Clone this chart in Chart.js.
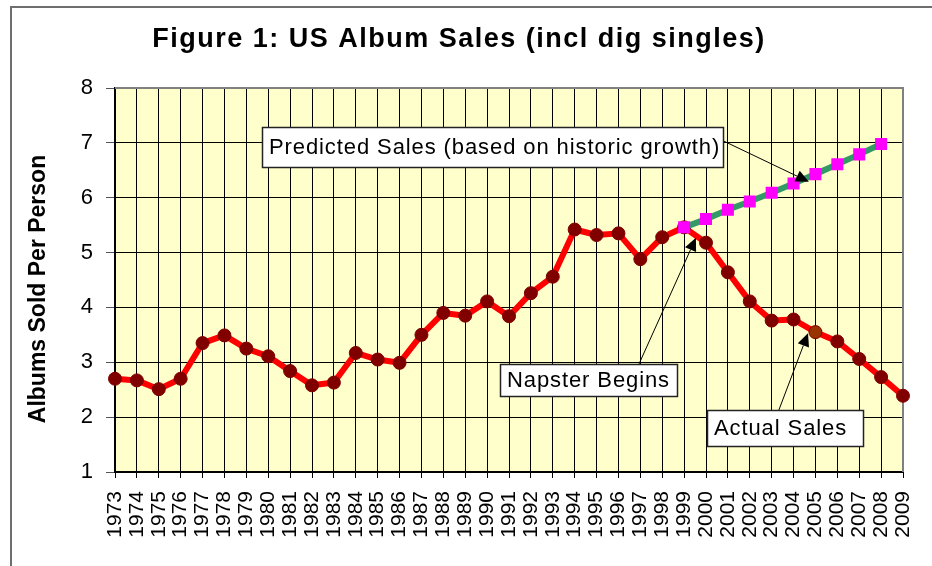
<!DOCTYPE html>
<html>
<head>
<meta charset="utf-8">
<script src="https://cdn.jsdelivr.net/npm/chart.js@4.4.1/dist/chart.umd.min.js"></script>
<style>
  html, body { margin: 0; padding: 0; background: #ffffff; }
  #wrap { width: 932px; height: 566px; position: relative; }
</style>
</head>
<body>
<div id="wrap"><canvas id="c" width="932" height="566"></canvas></div>
<script>
// ---- data ----
const years = ['1973','1974','1975','1976','1977','1978','1979','1980','1981','1982','1983','1984','1985','1986','1987','1988','1989','1990','1991','1992','1993','1994','1995','1996','1997','1998','1999','2000','2001','2002','2003','2004','2005','2006','2007','2008','2009'];
const actualSales = [2.70, 2.67, 2.51, 2.70, 3.35, 3.49, 3.25, 3.11, 2.84, 2.58, 2.63, 3.17, 3.05, 2.99, 3.50, 3.90, 3.85, 4.11, 3.84, 4.26, 4.56, 5.42, 5.32, 5.35, 4.88, 5.28, 5.46, 5.18, 4.64, 4.11, 3.76, 3.78, 3.55, 3.38, 3.06, 2.73, 2.39];
const predictedSales = [null, null, null, null, null, null, null, null, null, null, null, null, null, null, null, null, null, null, null, null, null, null, null, null, null, null, 5.46, 5.61, 5.78, 5.93, 6.09, 6.26, 6.43, 6.61, 6.79, 6.98, null];
const yTicks = [1, 2, 3, 4, 5, 6, 7, 8];
const titleText = 'Figure 1: US Album Sales (incl dig singles)';
const yTitleText = 'Albums Sold Per Person';
const highlightedYear = '2005';

// ---- annotation callouts (box corner / arrow tail / arrow tip in data coordinates) ----
const callouts = [
  { text: 'Predicted Sales (based on historic growth)', bx: 6.71, by: 7.29, w: 461, h: 40, tx: 27.77, ty: 7.04, px: 31.70, py: 6.29 },
  { text: 'Napster Begins', bx: 17.59, by: 2.97, w: 177, h: 32, tx: 23.94, ty: 2.97, px: 26.54, py: 5.27 },
  { text: 'Actual Sales', bx: 27.04, by: 2.13, w: 156, h: 36, tx: 30.33, ty: 2.13, px: 31.66, py: 3.53 }
];

const FONT = '"Liberation Sans", Arial, Helvetica, sans-serif';

const decorPlugin = {
  id: 'decor',
  beforeDraw(chart) {
    const { ctx, chartArea: a } = chart;
    ctx.save();
    ctx.fillStyle = '#ffffff';
    ctx.fillRect(0, 0, chart.width, chart.height);
    // outer frame
    ctx.strokeStyle = '#6e6e6e';
    ctx.lineWidth = 2;
    ctx.strokeRect(11, 7, chart.width + 20, chart.height + 20);
    // plot background
    ctx.fillStyle = '#FFFFCC';
    ctx.fillRect(a.left, a.top, a.right - a.left, a.bottom - a.top);
    ctx.restore();
  },
  beforeDatasetsDraw(chart) {
    const { ctx, chartArea: a } = chart;
    ctx.save();
    ctx.strokeStyle = '#808080';
    ctx.lineWidth = 2;
    ctx.beginPath();
    ctx.moveTo(a.left, a.top);
    ctx.lineTo(a.right, a.top);
    ctx.lineTo(a.right, a.bottom);
    ctx.stroke();
    ctx.restore();
  },
  afterDraw(chart) {
    const { ctx } = chart;
    const xs = chart.scales.x, ys = chart.scales.y;
    ctx.save();
    // title
    ctx.fillStyle = '#000';
    ctx.font = 'bold 27px ' + FONT;
    ctx.letterSpacing = '1.5px';
    ctx.textAlign = 'center';
    ctx.textBaseline = 'alphabetic';
    ctx.fillText(titleText, 459, 47);
    ctx.letterSpacing = '0px';
    // y title
    ctx.save();
    ctx.translate(45, 289);
    ctx.rotate(-Math.PI / 2);
    ctx.font = 'bold 23px ' + FONT;
    ctx.textAlign = 'center';
    ctx.textBaseline = 'alphabetic';
    ctx.fillText(yTitleText, 0, 0);
    ctx.restore();
    // callouts
    callouts.forEach(c => {
      const bx = xs.getPixelForValue(c.bx), by = ys.getPixelForValue(c.by);
      const tx = xs.getPixelForValue(c.tx), ty = ys.getPixelForValue(c.ty);
      const px = xs.getPixelForValue(c.px), py = ys.getPixelForValue(c.py);
      // arrow line
      ctx.strokeStyle = '#000';
      ctx.lineWidth = 1;
      const ang = Math.atan2(py - ty, px - tx);
      const headLen = 13, headW = 6;
      const bx2 = px - headLen * Math.cos(ang), by2 = py - headLen * Math.sin(ang);
      ctx.beginPath();
      ctx.moveTo(tx, ty);
      ctx.lineTo(bx2, by2);
      ctx.stroke();
      ctx.fillStyle = '#000';
      ctx.beginPath();
      ctx.moveTo(px, py);
      ctx.lineTo(bx2 + headW * Math.sin(ang), by2 - headW * Math.cos(ang));
      ctx.lineTo(bx2 - headW * Math.sin(ang), by2 + headW * Math.cos(ang));
      ctx.closePath();
      ctx.fill();
      // box
      ctx.fillStyle = '#ffffff';
      ctx.fillRect(Math.round(bx) + 0.5, Math.round(by) + 0.5, c.w, c.h);
      ctx.strokeStyle = '#222';
      ctx.lineWidth = 1.5;
      ctx.strokeRect(Math.round(bx) + 0.5, Math.round(by) + 0.5, c.w, c.h);
      ctx.fillStyle = '#000';
      ctx.font = '22px ' + FONT;
      ctx.letterSpacing = '0.9px';
      ctx.textAlign = 'left';
      ctx.textBaseline = 'middle';
      ctx.fillText(c.text, Math.round(bx) + 7, Math.round(by) + c.h / 2 + 1);
      ctx.letterSpacing = '0px';
    });
    ctx.restore();
  }
};

const actualPointColors = years.map(y => y === highlightedYear ? '#993300' : '#800000');

new Chart(document.getElementById('c'), {
  type: 'line',
  data: {
    labels: years,
    datasets: [
      {
        label: 'Predicted Sales',
        data: predictedSales,
        borderColor: '#339966',
        borderWidth: 6,
        pointStyle: 'rect',
        pointRadius: 8.5,
        pointBackgroundColor: '#FF00FF',
        pointBorderColor: '#FF00FF',
        pointBorderWidth: 0,
        tension: 0,
        spanGaps: false,
        order: 0
      },
      {
        label: 'Actual Sales',
        data: actualSales,
        borderColor: '#FF0000',
        borderWidth: 6,
        borderJoinStyle: 'round',
        pointStyle: 'circle',
        pointRadius: 6.5,
        pointBackgroundColor: actualPointColors,
        pointBorderColor: '#800000',
        pointBorderWidth: 1,
        tension: 0,
        order: 1
      }
    ]
  },
  options: {
    responsive: false,
    animation: false,
    devicePixelRatio: 1,
    layout: { padding: { left: 0, top: 88, right: 29, bottom: 0 } },
    plugins: {
      legend: { display: false },
      tooltip: { enabled: false },
      title: { display: false }
    },
    scales: {
      x: {
        type: 'category',
        offset: false,
        grid: { color: '#000', lineWidth: 1, tickLength: 6, tickColor: '#000', drawOnChartArea: true },
        border: { display: true, color: '#000', width: 2 },
        ticks: {
          autoSkip: false,
          minRotation: 90,
          maxRotation: 90,
          color: '#000',
          padding: 13,
          font: { family: FONT, size: 21 }
        },
        afterFit(s) { s.height = 94; s.paddingLeft = 0; s.paddingRight = 0; }
      },
      y: {
        type: 'linear',
        min: 1,
        max: 8,
        afterBuildTicks(s) { s.ticks = yTicks.map(v => ({ value: v })); },
        grid: { color: '#000', lineWidth: 1, tickLength: 9, tickColor: '#555' },
        border: { display: true, color: '#000', width: 2 },
        ticks: {
          color: '#000',
          padding: 13,
          font: { family: FONT, size: 22 }
        },
        afterFit(s) { s.width = 115; s.paddingTop = 0; s.paddingBottom = 0; }
      }
    }
  },
  plugins: [decorPlugin]
});
</script>
</body>
</html>
